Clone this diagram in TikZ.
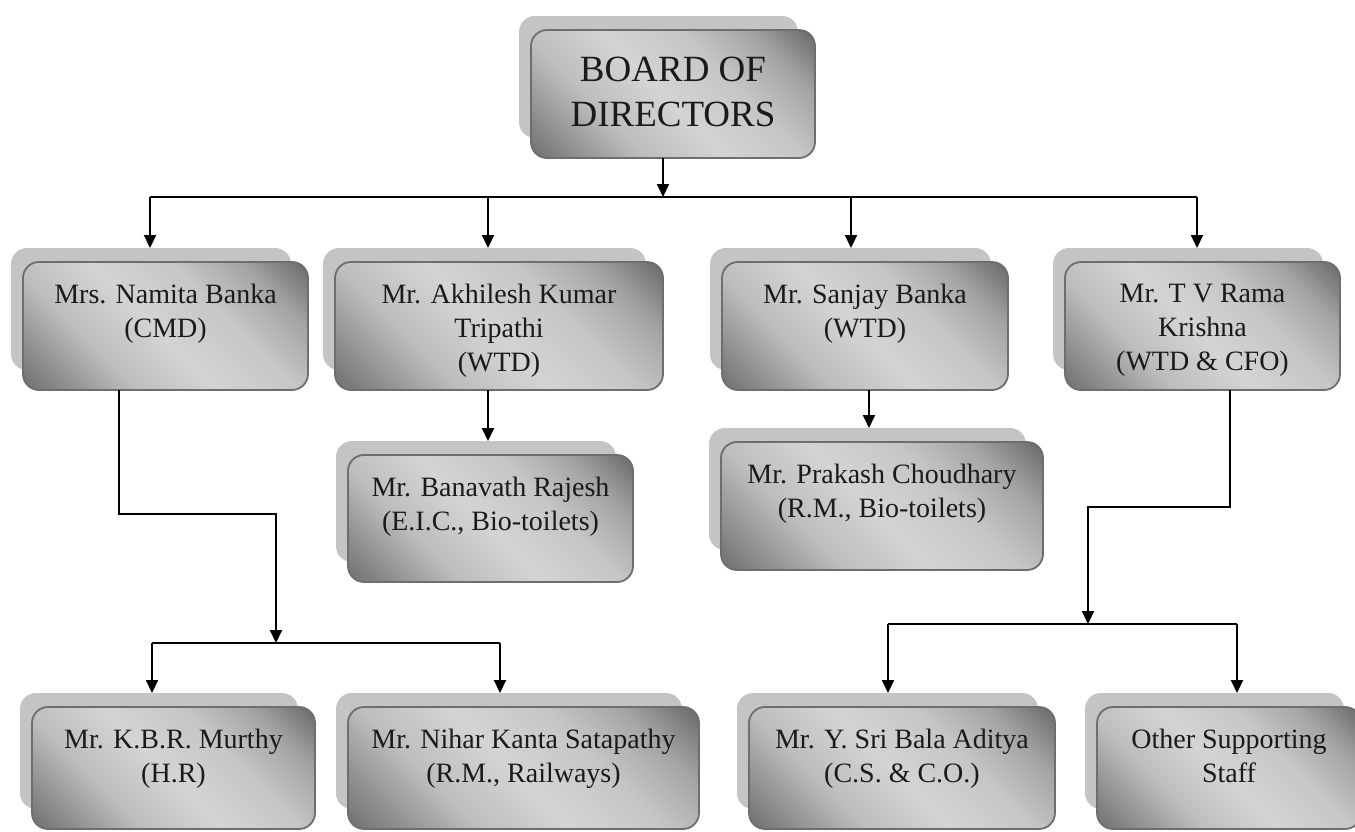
\documentclass[tikz,border=0pt]{standalone}
\usepackage{fontspec}
\setmainfont{Liberation Serif}
\usetikzlibrary{arrows.meta}
\pgfdeclarelayer{background}
\pgfsetlayers{background,main}
\definecolor{dkA}{HTML}{747474}
\definecolor{midA}{HTML}{BDBDBD}
\definecolor{lt}{HTML}{D4D4D4}
\definecolor{midB}{HTML}{C6C6C6}
\definecolor{midC}{HTML}{A4A4A4}
\definecolor{dkB}{HTML}{646464}
\definecolor{edgec}{HTML}{6E6E6E}
\definecolor{shadowc}{HTML}{C4C4C4}
\definecolor{txt}{HTML}{1A1A1A}
\pgfdeclareverticalshading{boxshade}{100bp}{%
  color(0bp)=(dkA); color(16bp)=(dkA); color(34bp)=(midA);
  color(48bp)=(lt); color(62bp)=(midB); color(74bp)=(midC);
  color(86bp)=(dkB); color(100bp)=(dkB)}
\tikzset{
  front/.style={draw=edgec, line width=1.8pt, rounded corners=16pt,
    shading=boxshade, shading angle=-45,
    anchor=north west, inner sep=0pt, outer sep=0pt},
  lbl/.style={anchor=north, align=center, inner sep=0pt, text=txt,
    font=\fontsize{28}{34}\selectfont},
  arr/.style={line width=2pt, -{Triangle[width=12pt,length=13pt]}},
  bus/.style={line width=1.6pt},
  shadowbox/.style={fill=shadowc, rounded corners=16pt}
}
\begin{document}
\begin{tikzpicture}[x=1pt,y=-1pt]
\useasboundingbox (0,0) rectangle (1355,831);
\clip (0,0) rectangle (1355,831);

% boxes
\node[front, minimum width=284pt, minimum height=128pt] (board) at (531,30) {};
\node[lbl, font=\fontsize{37}{45}\selectfont] (boardT) at ([yshift=-27pt]board.north) {BOARD OF\\DIRECTORS};

\node[front, minimum width=285pt, minimum height=128pt] (namita) at (23,262) {};
\node[lbl] (namitaT) at ([yshift=-22pt]namita.north) {Mrs. Namita Banka\\(CMD)};

\node[front, minimum width=328pt, minimum height=128pt] (akhilesh) at (335,262) {};
\node[lbl] (akhileshT) at ([yshift=-22pt]akhilesh.north) {Mr. Akhilesh Kumar\\Tripathi\\(WTD)};

\node[front, minimum width=286pt, minimum height=128pt] (sanjay) at (722,262) {};
\node[lbl] (sanjayT) at ([yshift=-22pt]sanjay.north) {Mr. Sanjay Banka\\(WTD)};

\node[front, minimum width=275pt, minimum height=128pt] (krishna) at (1065,262) {};
\node[lbl] (krishnaT) at ([yshift=-22pt]krishna.north) {Mr. T V Rama\\Krishna\\(WTD \& CFO)};

\node[front, minimum width=285pt, minimum height=127pt] (banavath) at (348,455) {};
\node[lbl] (banavathT) at ([yshift=-22pt]banavath.north) {Mr. Banavath Rajesh\\(E.I.C., Bio-toilets)};

\node[front, minimum width=322pt, minimum height=128pt] (prakash) at (721,442) {};
\node[lbl] (prakashT) at ([yshift=-22pt]prakash.north) {Mr. Prakash Choudhary\\(R.M., Bio-toilets)};

\node[front, minimum width=283pt, minimum height=122pt] (murthy) at (32,707) {};
\node[lbl] (murthyT) at ([yshift=-22pt]murthy.north) {Mr. K.B.R. Murthy\\(H.R)};

\node[front, minimum width=351pt, minimum height=122pt] (nihar) at (348,707) {};
\node[lbl] (niharT) at ([yshift=-22pt]nihar.north) {Mr. Nihar Kanta Satapathy\\(R.M., Railways)};

\node[front, minimum width=306pt, minimum height=122pt] (aditya) at (749,707) {};
\node[lbl] (adityaT) at ([yshift=-22pt]aditya.north) {Mr. Y. Sri Bala Aditya\\(C.S. \& C.O.)};

\node[front, minimum width=264pt, minimum height=122pt] (other) at (1097,707) {};
\node[lbl] (otherT) at ([yshift=-22pt]other.north) {Other Supporting\\Staff};

% connector points
\coordinate (jt) at (663,197);
\coordinate (c1) at (150,197);
\coordinate (c2) at (488,197);
\coordinate (c3) at (851,197);
\coordinate (c4) at (1197,197);
\coordinate (sp) at (869,400);
\coordinate (nb) at (276,643);
\coordinate (lb1) at (152,643);
\coordinate (lb2) at (500,643);
\coordinate (kb) at (1088,624);
\coordinate (rb1) at (888,624);
\coordinate (rb2) at (1237,624);

% connectors
\draw[arr] (board.south -| jt) -- (jt);
\draw[bus] (c1) -- (c4);
\draw[arr] (c1) -- ([yshift=14pt]c1 |- namita.north);
\draw[arr] (c2) -- ([yshift=14pt]c2 |- akhilesh.north);
\draw[arr] (c3) -- ([yshift=14pt]c3 |- sanjay.north);
\draw[arr] (c4) -- ([yshift=14pt]c4 |- krishna.north);

\draw[arr] (akhilesh.south -| c2) -- ([yshift=14pt]banavath.north -| c2);
\draw[arr] (sanjay.south -| sp) -- ([yshift=14pt]prakash.north -| sp);

\draw[arr] ([xshift=-46.5pt]namita.south) -- ++(0,124) -| (nb);
\draw[bus] (lb1) -- (lb2);
\draw[arr] (lb1) -- ([yshift=14pt]lb1 |- murthy.north);
\draw[arr] (lb2) -- ([yshift=14pt]lb2 |- nihar.north);

\draw[arr] ([xshift=27.5pt]krishna.south) -- ++(0,117) -| (kb);
\draw[bus] (rb1) -- (rb2);
\draw[arr] (rb1) -- ([yshift=14pt]rb1 |- aditya.north);
\draw[arr] (rb2) -- ([yshift=14pt]rb2 |- other.north);

% shadows behind the boxes
\begin{pgfonlayer}{background}
\fill[white] (0,0) rectangle (1355,831);
\foreach \n in {board,namita,akhilesh,sanjay,krishna,banavath,prakash,murthy,nihar,aditya,other}
  \fill[shadowbox] ([shift={(-12pt,14pt)}]\n.north west) rectangle ([shift={(-17pt,20pt)}]\n.south east);
\end{pgfonlayer}
\end{tikzpicture}
\end{document}
